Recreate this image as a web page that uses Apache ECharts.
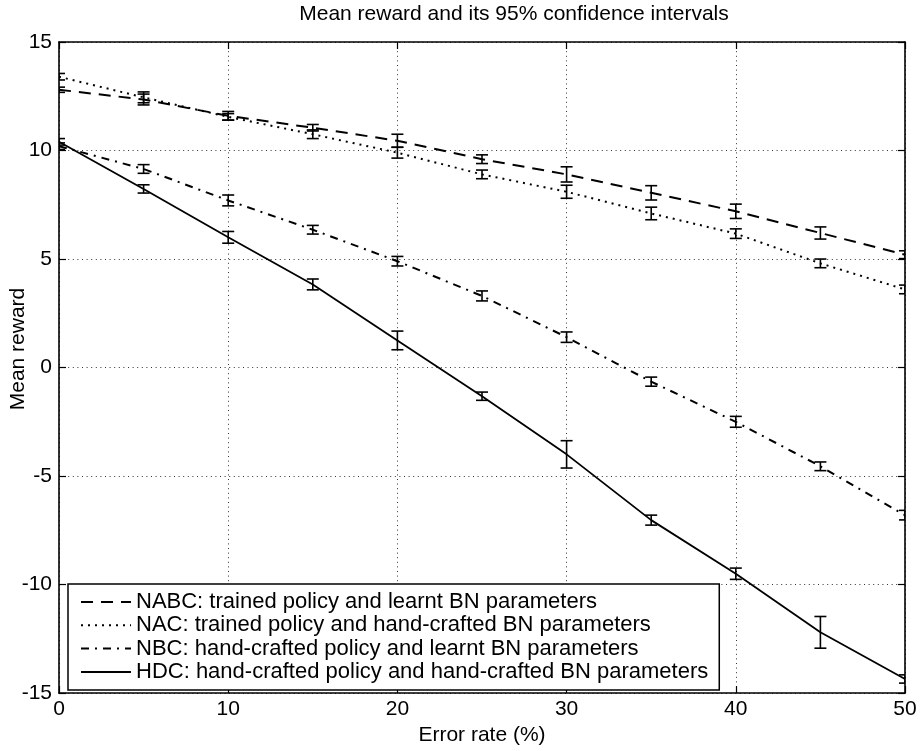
<!DOCTYPE html>
<html>
<head>
<meta charset="utf-8">
<script src="https://cdn.jsdelivr.net/npm/echarts@6/dist/echarts.min.js"></script>
<style>
html,body{margin:0;padding:0;background:#fff;}
#c{width:921px;height:751px;}
</style>
</head>
<body>
<div id="c"></div>
<script>
// ---- data ----
var errorRates = [0, 5, 10, 15, 20, 25, 30, 35, 40, 45, 50];
var seriesNames = [
  'NABC: trained policy and learnt BN parameters',
  'NAC: trained policy and hand-crafted BN parameters',
  'NBC: hand-crafted policy and learnt BN parameters',
  'HDC: hand-crafted policy and hand-crafted BN parameters'
];
var nabcMean = [12.8, 12.35, 11.6, 11.05, 10.45, 9.6, 8.9, 8.05, 7.2, 6.2, 5.2];
var nabcErr  = [0.12, 0.25, 0.2, 0.15, 0.3, 0.2, 0.35, 0.33, 0.33, 0.28, 0.18];
var nacMean  = [13.4, 12.45, 11.55, 10.75, 9.9, 8.9, 8.1, 7.1, 6.17, 4.8, 3.6];
var nacErr   = [0.15, 0.25, 0.15, 0.2, 0.25, 0.2, 0.3, 0.29, 0.22, 0.2, 0.2];
var nbcMean  = [10.2, 9.15, 7.7, 6.35, 4.9, 3.3, 1.4, -0.65, -2.5, -4.55, -6.8];
var nbcErr   = [0.15, 0.2, 0.25, 0.2, 0.22, 0.23, 0.24, 0.21, 0.25, 0.2, 0.22];
var hdcMean  = [10.4, 8.23, 6.0, 3.83, 1.25, -1.32, -4.0, -7.03, -9.5, -12.2, -14.35];
var hdcErr   = [0.15, 0.19, 0.27, 0.25, 0.43, 0.19, 0.63, 0.23, 0.26, 0.73, 0.19];

var FONT = '"Liberation Sans", Arial, Helvetica, sans-serif';

function pts(m){ return errorRates.map(function(x,i){ return [x, m[i]]; }); }
function bars(m,e){ return errorRates.map(function(x,i){ return [x, m[i]-e[i], m[i]+e[i]]; }); }

function errRender(params, api){
  var x = api.value(0), lo = api.value(1), hi = api.value(2);
  var a = api.coord([x, lo]), b = api.coord([x, hi]);
  var w = 6;
  var st = {stroke:'#000', lineWidth:1.6};
  return {type:'group', children:[
    {type:'line', shape:{x1:a[0],y1:a[1],x2:b[0],y2:b[1]}, style:st},
    {type:'line', shape:{x1:a[0]-w,y1:a[1],x2:a[0]+w,y2:a[1]}, style:st},
    {type:'line', shape:{x1:b[0]-w,y1:b[1],x2:b[0]+w,y2:b[1]}, style:st}
  ]};
}

var lineStyles = [
  {color:'#000', width:2, type:[12,8]},
  {color:'#000', width:2, type:[2,5]},
  {color:'#000', width:2, type:[8,6,2,6]},
  {color:'#000', width:1.8, type:'solid'}
];
var means = [nabcMean, nacMean, nbcMean, hdcMean];
var errs = [nabcErr, nacErr, nbcErr, hdcErr];

var series = [];
for (var i=0;i<4;i++){
  series.push({
    name: seriesNames[i], type:'line', data: pts(means[i]),
    symbol:'none', lineStyle: lineStyles[i], itemStyle:{color:'#000'},
    animation:false, z:3
  });
}
for (var j=0;j<4;j++){
  series.push({
    name: 'err'+j, type:'custom', data: bars(means[j], errs[j]),
    renderItem: errRender, clip:true, animation:false, z:4,
    encode:{x:0, y:[1,2]}
  });
}

var axisLine = {show:true, onZero:false, lineStyle:{color:'#000', width:1.6}};
var split = {show:true, lineStyle:{color:'#333', width:1, type:[1,3.6]}};
var tick = {show:true, inside:true, length:7, lineStyle:{color:'#000', width:1.2}};

var chart = echarts.init(document.getElementById('c'), null, {renderer:'canvas'});
chart.setOption({
  backgroundColor:'#fff',
  animation:false,
  textStyle:{fontFamily:FONT},
  grid:{left:59, right:16, top:42, bottom:52, containLabel:false},
  xAxis:[{
    type:'value', min:0, max:50, interval:10, position:'bottom',
    axisLine:axisLine, axisTick:tick,
    axisLabel:{color:'#000', fontSize:21, fontFamily:FONT, margin:6},
    splitLine:split,
    name:'Error rate (%)', nameLocation:'middle', nameGap:31,
    nameTextStyle:{color:'#000', fontSize:21, fontFamily:FONT}
  },{
    type:'value', min:0, max:50, interval:10, position:'top',
    axisLine:axisLine, axisTick:tick,
    axisLabel:{show:false}, splitLine:{show:false}
  }],
  yAxis:[{
    type:'value', min:-15, max:15, interval:5, position:'left',
    axisLine:axisLine, axisTick:tick,
    axisLabel:{color:'#000', fontSize:21, fontFamily:FONT, margin:7},
    splitLine:split
  },{
    type:'value', min:-15, max:15, interval:5, position:'right',
    axisLine:axisLine, axisTick:tick,
    axisLabel:{show:false}, splitLine:{show:false}
  }],
  legend:{
    data: seriesNames,
    orient:'vertical', left:68, top:584,
    backgroundColor:'#fff', borderColor:'#000', borderWidth:1.5,
    padding:[7,11,7,12],
    itemWidth:50, itemHeight:14, itemGap:1.3,
    itemStyle:{opacity:0},
    textStyle:{color:'#000', fontSize:22, fontFamily:FONT, lineHeight:20},
    selectedMode:false
  },
  graphic:[
    {type:'text', x:514, y:14, style:{text:'Mean reward and its 95% confidence intervals', fill:'#000', font:'21px '+FONT, textAlign:'center', textVerticalAlign:'middle'}},
    {type:'text', x:18, y:349, rotation:Math.PI/2, style:{text:'Mean reward', fill:'#000', font:'21px '+FONT, textAlign:'center', textVerticalAlign:'middle'}}
  ],
  series: series
});
</script>
</body>
</html>
